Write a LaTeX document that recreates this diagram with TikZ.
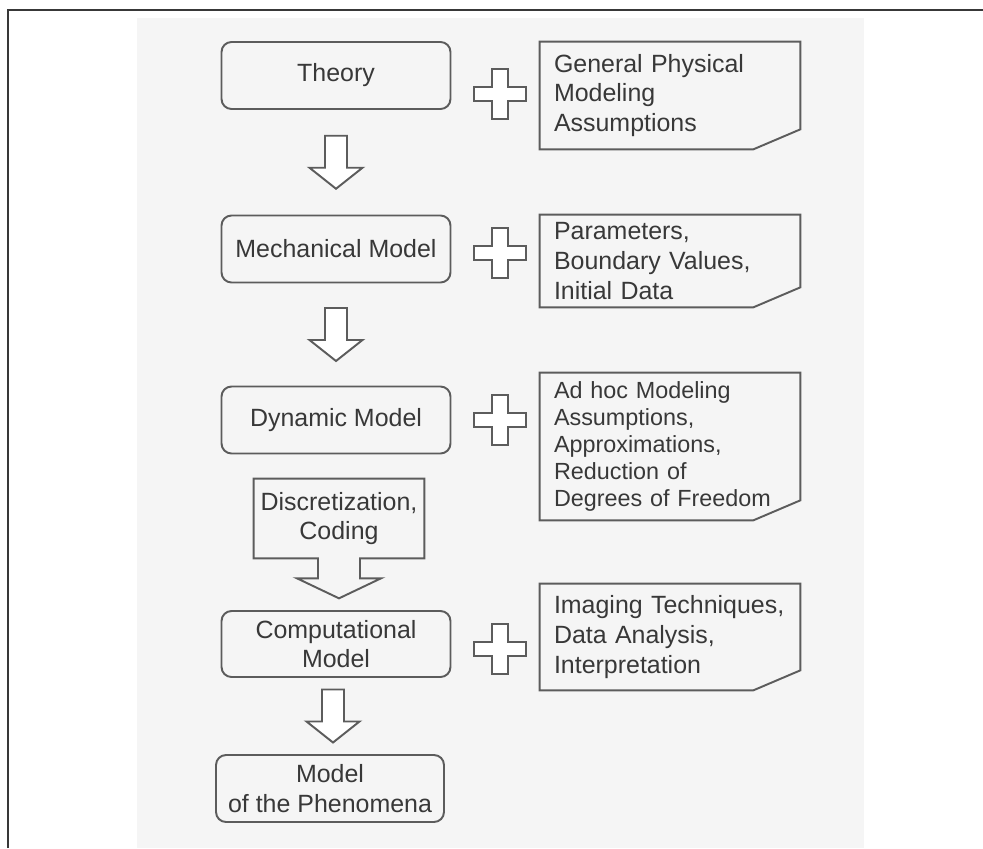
\documentclass[tikz,border=0pt]{standalone}
\usepackage{fontspec}
\setmainfont{Liberation Sans}
\usepackage{tikz}
\usetikzlibrary{calc,positioning}
\usepackage{xcolor}
\definecolor{ink}{HTML}{383838}
\definecolor{edge}{HTML}{5C5C5C}
\definecolor{panel}{HTML}{F5F5F5}
\newcommand{\boxfont}{\fontsize{14.2}{16.6}\selectfont}
\newcommand{\notefont}{\fontsize{14.2}{16.9}\selectfont}
\newcommand{\smallnotefont}{\fontsize{13.3}{15.4}\selectfont}

\begin{document}
\begin{tikzpicture}[x=0.02cm,y=-0.02cm,
    outline/.style={draw=edge,line width=1.1pt,line join=miter},
    stage/.style={outline,rounded corners=0.2cm,minimum width=4.58cm,
        minimum height=1.34cm,align=center,font=\boxfont,text=ink},
    note/.style={text width=4.64cm,inner xsep=0.28cm,align=left,
        font=\notefont,text=ink},
    downarrow/.pic={\draw[outline,fill=white] (-11,-26.5) -- (11,-26.5) -- (11,5.5)
        -- (26.5,5.5) -- (0,26.5) -- (-26.5,5.5) -- (-11,5.5) -- cycle;},
    plus/.pic={\draw[outline,fill=white] (-8,-25) -- (8,-25) -- (8,-7) -- (26,-7)
        -- (26,7) -- (8,7) -- (8,25) -- (-8,25) -- (-8,7) -- (-26,7)
        -- (-26,-7) -- (-8,-7) -- cycle;}]
    \useasboundingbox (0,0) rectangle (983,848);

    % Page frame and grey panel
    \fill[panel] (137,18) rectangle (864,848);
    \draw[line width=1.2pt,ink] (8,848) -- (8,10) -- (983,10);

    % Modelling stages
    \node[stage] (theory) at (336,75.5) {Theory};
    \node[stage] (mech) at (336,249) {Mechanical Model};
    \node[stage] (dyn) at (336,420) {Dynamic Model};
    \node[stage,minimum height=1.32cm] (comp) at (336,644) {Computational\\Model};
    \node[stage,minimum width=4.56cm] (phen) at (330,788.5) {Model\\of the Phenomena};

    % What goes into each stage
    \node[note,minimum height=2.14cm] (s1) at (670,95.5)
        {General Physical\\Modeling\\Assumptions};
    \node[note,minimum height=1.84cm] (s2) at (670,261)
        {Parameters,\\Boundary Values,\\Initial Data};
    \node[note,font=\smallnotefont,minimum height=2.94cm] (s3) at (670,446.5)
        {Ad hoc Modeling\\Assumptions,\\Approximations,\\Reduction of\\Degrees of Freedom};
    \node[note,minimum height=2.12cm] (s4) at (670,637)
        {Imaging Techniques,\\Data Analysis,\\Interpretation};
    \foreach \n in {s1,s2,s3,s4} {
        \draw[outline] (\n.north west) -- (\n.north east)
            -- ([yshift=0.4cm]\n.south east) -- ([xshift=-0.94cm]\n.south east)
            -- (\n.south west) -- cycle;
    }

    % Plus signs
    \foreach \y in {94,253,420,649} {
        \pic at (500,\y) {plus};
    }

    % Arrows between stages
    \pic at ($(theory.south)!0.5!(mech.north)$) {downarrow};
    \pic at ($(mech.south)!0.5!(dyn.north)$) {downarrow};
    \pic at ($(comp.south)!0.5!(phen.north)$) {downarrow};

    % Discretization step with its own arrow
    \node[minimum width=3.4cm,minimum height=1.58cm,align=center,font=\boxfont,
        text=ink] (code) at (339,518.5) {Discretization,\\Coding};
    \draw[outline] (code.north west) -- (code.north east) -- (code.south east)
        -- ([xshift=0.42cm]code.south) -- ([xshift=0.42cm,yshift=-0.4cm]code.south)
        -- ([xshift=0.84cm,yshift=-0.4cm]code.south) -- ([yshift=-0.8cm]code.south)
        -- ([xshift=-0.84cm,yshift=-0.4cm]code.south)
        -- ([xshift=-0.42cm,yshift=-0.4cm]code.south)
        -- ([xshift=-0.42cm]code.south) -- (code.south west) -- cycle;
\end{tikzpicture}
\end{document}
